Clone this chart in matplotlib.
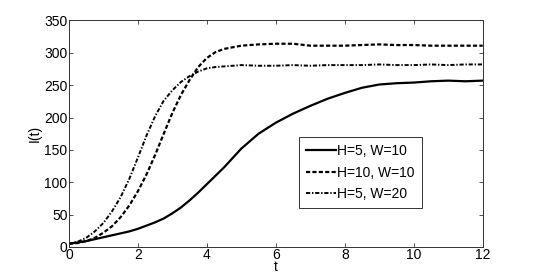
import matplotlib
matplotlib.use("Agg")
import matplotlib.pyplot as plt

# time samples (finer where the curves rise steeply)
t = [0, 0.25, 0.5, 0.75, 1, 1.25, 1.5, 1.75, 2, 2.25, 2.5, 2.75, 3, 3.25,
     3.5, 3.75, 4, 4.25, 4.5, 5, 5.5, 6, 6.5, 7, 7.5, 8, 8.5, 9, 9.5, 10,
     10.5, 11, 11.5, 12]

# H=5, W=10
i_h5_w10 = [5, 7, 9, 12, 15, 18, 21, 24, 28, 33, 38, 44, 52, 61,
            72, 84, 97, 110, 123, 152, 175, 192, 206, 218, 229, 238, 246, 251,
            253, 254, 256, 257, 256, 257]
# H=10, W=10
i_h10_w10 = [5, 6, 9, 14, 22, 32, 46, 64, 86, 112, 142, 175, 207, 235,
             258, 278, 292, 301, 306, 311, 313, 314, 314, 311, 311, 311, 312,
             313, 312, 312, 311, 311, 311, 311]
# H=5, W=20
i_h5_w20 = [5, 8, 14, 24, 37, 55, 77, 105, 138, 172, 202, 226, 242, 255,
            264, 271, 276, 278, 279, 281, 280, 280, 281, 280, 281, 281, 281,
            282, 281, 281, 282, 281, 282, 282]

labels = ["H=5, W=10", "H=10, W=10", "H=5, W=20"]

plt.rcParams["font.family"] = ["Liberation Sans", "DejaVu Sans"]
plt.rcParams["font.size"] = 10
plt.rcParams["lines.scale_dashes"] = False

fig = plt.figure(figsize=(5.34, 2.8), dpi=100)
ax = fig.add_axes([0.129, 0.118, 0.775, 0.809])

ax.plot(t, i_h5_w10, color="black", lw=1.6, ls="-", label=labels[0])
ax.plot(t, i_h10_w10, color="black", lw=1.6, dashes=(3, 1.6), label=labels[1])
ax.plot(t, i_h5_w20, color="black", lw=1.4, dashes=(3, 1.3, 1, 1.3), label=labels[2])

ax.set_xlim(0, 12)
ax.set_ylim(0, 350)
ax.set_xticks(range(0, 13, 2))
ax.set_yticks(range(0, 351, 50))
ax.tick_params(direction="in", top=True, right=True, length=3, width=0.6,
               colors="#333333", labelcolor="black", pad=1)
for s in ax.spines.values():
    s.set_linewidth(0.7)
    s.set_color("#333333")

ax.set_xlabel("t", labelpad=-2)
ax.set_ylabel("I(t)", labelpad=2)

leg = ax.legend(loc="upper left", bbox_to_anchor=(0.555, 0.485), fancybox=False,
                edgecolor="#333333", framealpha=1, handlelength=2.2,
                handletextpad=0.1, borderpad=0.5, labelspacing=0.55,
                borderaxespad=0)
leg.get_frame().set_linewidth(0.7)

fig.savefig("out.png", dpi=100)
